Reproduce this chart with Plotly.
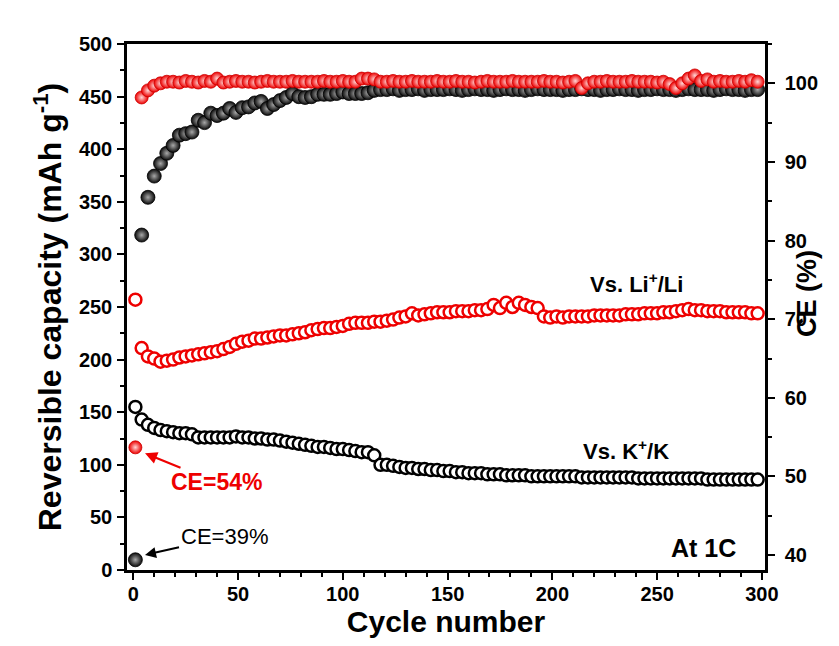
import plotly.graph_objects as go

# ---------------- data ----------------
cycles = list(range(1, 299, 3))  # cycle numbers of plotted points

cap_k = [155, 143, 138, 135, 133, 132, 131, 130, 130, 129,
         126, 126, 126, 126, 126, 126, 127, 126, 126, 125,
         125, 124, 124, 123, 122, 121, 120, 119, 118, 117,
         117, 116, 115, 115, 114, 113, 112, 112, 109, 100,
         100, 99, 98, 97, 97, 96, 96, 95, 95, 94,
         94, 93, 93, 92, 92, 92, 91, 91, 91, 90,
         90, 90, 90, 89, 89, 89, 89, 89, 89, 89,
         89, 88, 88, 88, 88, 88, 88, 88, 88, 88,
         87, 87, 87, 87, 87, 87, 87, 87, 87, 87,
         87, 86, 86, 86, 86, 86, 86, 86, 86, 86]

cap_li = [257, 211, 203, 201, 198, 199, 200, 202, 203, 204,
          205, 206, 207, 208, 210, 212, 215, 217, 218, 220,
          220, 221, 222, 223, 223, 224, 225, 226, 228, 229,
          230, 230, 231, 232, 234, 235, 235, 235, 236, 236,
          237, 238, 240, 241, 244, 242, 243, 244, 245, 245,
          245, 246, 246, 246, 247, 247, 248, 252, 249, 254,
          250, 254, 252, 250, 249, 241, 240, 241, 240, 241,
          241, 241, 241, 242, 242, 242, 242, 242, 243, 243,
          243, 244, 244, 244, 245, 245, 246, 247, 248, 247,
          247, 246, 246, 246, 245, 245, 245, 245, 244, 244]

ce_k = [39.4, 80.7, 85.5, 88.2, 89.8, 91.1, 92.1, 93.4, 93.6, 93.8,
        95.3, 95.0, 96.2, 95.9, 96.2, 96.8, 96.3, 96.9, 97.0, 97.5,
        97.7, 96.8, 97.3, 97.8, 98.2, 98.7, 98.3, 98.2, 98.3, 98.6,
        98.6, 98.6, 98.7, 98.9, 98.7, 98.7, 98.7, 98.8, 99.1, 99.2,
        99.2, 99.3, 99.1, 99.2, 99.2, 99.3, 99.1, 99.2, 99.2, 99.2,
        99.3, 99.2, 99.1, 99.2, 99.3, 99.2, 99.2, 99.1, 99.2, 99.3,
        99.2, 99.2, 99.1, 99.2, 99.3, 99.2, 99.2, 99.2, 99.1, 99.2,
        99.2, 99.3, 99.2, 99.2, 99.1, 99.2, 99.2, 99.3, 99.2, 99.2,
        99.1, 99.2, 99.2, 99.3, 99.2, 99.2, 99.1, 99.2, 99.3, 99.2,
        99.2, 99.2, 99.1, 99.2, 99.3, 99.2, 99.2, 99.1, 99.2, 99.2]

ce_li = [53.7, 98.2, 99.1, 99.7, 100.0, 100.2, 100.2, 100.1, 100.3, 100.2,
         100.1, 100.3, 100.2, 100.6, 100.1, 100.2, 100.3, 100.2, 100.2, 100.1,
         100.2, 100.3, 100.2, 100.2, 100.2, 100.3, 100.2, 100.2, 100.2, 100.2,
         100.3, 100.2, 100.2, 100.3, 100.2, 100.2, 100.6, 100.6, 100.5, 100.2,
         100.2, 100.3, 100.2, 100.2, 100.3, 100.2, 100.2, 100.2, 100.3, 100.2,
         100.2, 100.3, 100.2, 100.2, 100.1, 100.2, 100.3, 100.2, 100.2, 100.2,
         100.3, 100.2, 100.2, 100.2, 100.2, 100.3, 100.2, 100.2, 100.1, 100.2,
         100.3, 99.4, 100.0, 100.2, 100.2, 100.3, 100.2, 100.2, 100.2, 100.3,
         100.2, 100.2, 100.2, 100.1, 100.2, 99.9, 99.4, 100.0, 100.6, 101.0,
         100.3, 100.5, 100.2, 100.3, 100.2, 100.2, 100.3, 100.2, 100.4, 100.2]

# ---------------- figure ----------------
FONT = "Liberation Sans, Arial, sans-serif"

fig = go.Figure()

fig.add_trace(go.Scatter(
    x=cycles, y=cap_k, mode="markers", name="K capacity",
    marker=dict(symbol="circle", size=12, color="white",
                line=dict(color="black", width=2.5)),
    yaxis="y"))

fig.add_trace(go.Scatter(
    x=cycles, y=cap_li, mode="markers", name="Li capacity",
    marker=dict(symbol="circle", size=12, color="white",
                line=dict(color="#ee0000", width=2.5)),
    yaxis="y"))

fig.add_trace(go.Scatter(
    x=cycles, y=ce_k, mode="markers", name="K CE",
    marker=dict(symbol="circle", size=14, color="#0a0a0a",
                gradient=dict(type="radial", color="#a8a8a8"),
                line=dict(color="#000000", width=0.8)),
    yaxis="y2"))

fig.add_trace(go.Scatter(
    x=cycles, y=ce_li, mode="markers", name="Li CE",
    marker=dict(symbol="circle", size=13, color="#ee0000",
                gradient=dict(type="radial", color="#ffd6d6"),
                line=dict(color="#cc0000", width=0.8)),
    yaxis="y2"))

axis_common = dict(
    showgrid=False, zeroline=False, showline=True, linecolor="black",
    linewidth=2.5, ticks="outside", ticklen=7, tickwidth=2, tickcolor="black",
    tickfont=dict(family=FONT, size=20, color="black", weight="bold"),
)

# the page body adds an 8px margin, so the figure is sized to fit the window
fig.update_layout(
    width=831, height=638,
    margin=dict(l=119, r=74, t=36, b=76, autoexpand=False),
    paper_bgcolor="white", plot_bgcolor="white",
    showlegend=False,
    xaxis=dict(
        **axis_common, range=[-3, 301.5], dtick=50, tick0=0, mirror=True,
        ticklabelstandoff=-3,
        minor=dict(dtick=10, ticklen=4, tickwidth=1.5, tickcolor="black", ticks="outside"),
        title=dict(text="Cycle number", standoff=0,
                   font=dict(family=FONT, size=30, color="black", weight="bold")),
    ),
    yaxis=dict(
        **axis_common, range=[0, 500], dtick=50, tick0=0, ticklabelstandoff=1,
        minor=dict(dtick=25, ticklen=4, tickwidth=1.5, tickcolor="black", ticks="outside"),
        title=dict(text="Reversible capacity (mAh g<sup>-1</sup>)", standoff=8,
                   font=dict(family=FONT, size=32, color="black", weight="bold")),
    ),
    yaxis2=dict(
        **axis_common, range=[38.1, 105], dtick=10, tick0=40, ticklabelstandoff=6,
        overlaying="y", side="right",
        minor=dict(dtick=5, ticklen=4, tickwidth=1.5, tickcolor="black", ticks="outside"),
    ),
)

ann_font = dict(family=FONT, color="black", weight="bold")

# right axis title
fig.add_annotation(x=1.066, y=0.525, xref="paper", yref="paper", showarrow=False,
                   text="CE (%)", textangle=-90, xanchor="center", yanchor="middle",
                   font=dict(**ann_font, size=27))

fig.add_annotation(x=240, y=273, xref="x", yref="y", showarrow=False,
                   text="Vs. Li<sup>+</sup>/Li", font=dict(**ann_font, size=22))
fig.add_annotation(x=235, y=114, xref="x", yref="y", showarrow=False,
                   text="Vs. K<sup>+</sup>/K", font=dict(**ann_font, size=22))
fig.add_annotation(x=272, y=21, xref="x", yref="y", showarrow=False,
                   text="At 1C", font=dict(**ann_font, size=25))

# labelled arrows pointing at the first-cycle CE points
fig.add_annotation(x=5.6, y=111, xref="x", yref="y", showarrow=True,
                   text="CE=54%", ax=71, ay=29,
                   font=dict(family=FONT, color="#ee0000", weight="bold", size=23),
                   arrowhead=2, arrowsize=1.1, arrowwidth=2.2, arrowcolor="#ee0000")
fig.add_annotation(x=5.6, y=14.3, xref="x", yref="y", showarrow=True,
                   text="CE=39%", ax=79, ay=-18,
                   font=dict(family=FONT, color="black", weight="normal", size=22),
                   arrowhead=2, arrowsize=1.1, arrowwidth=2, arrowcolor="black")

fig.write_html("out.html")
